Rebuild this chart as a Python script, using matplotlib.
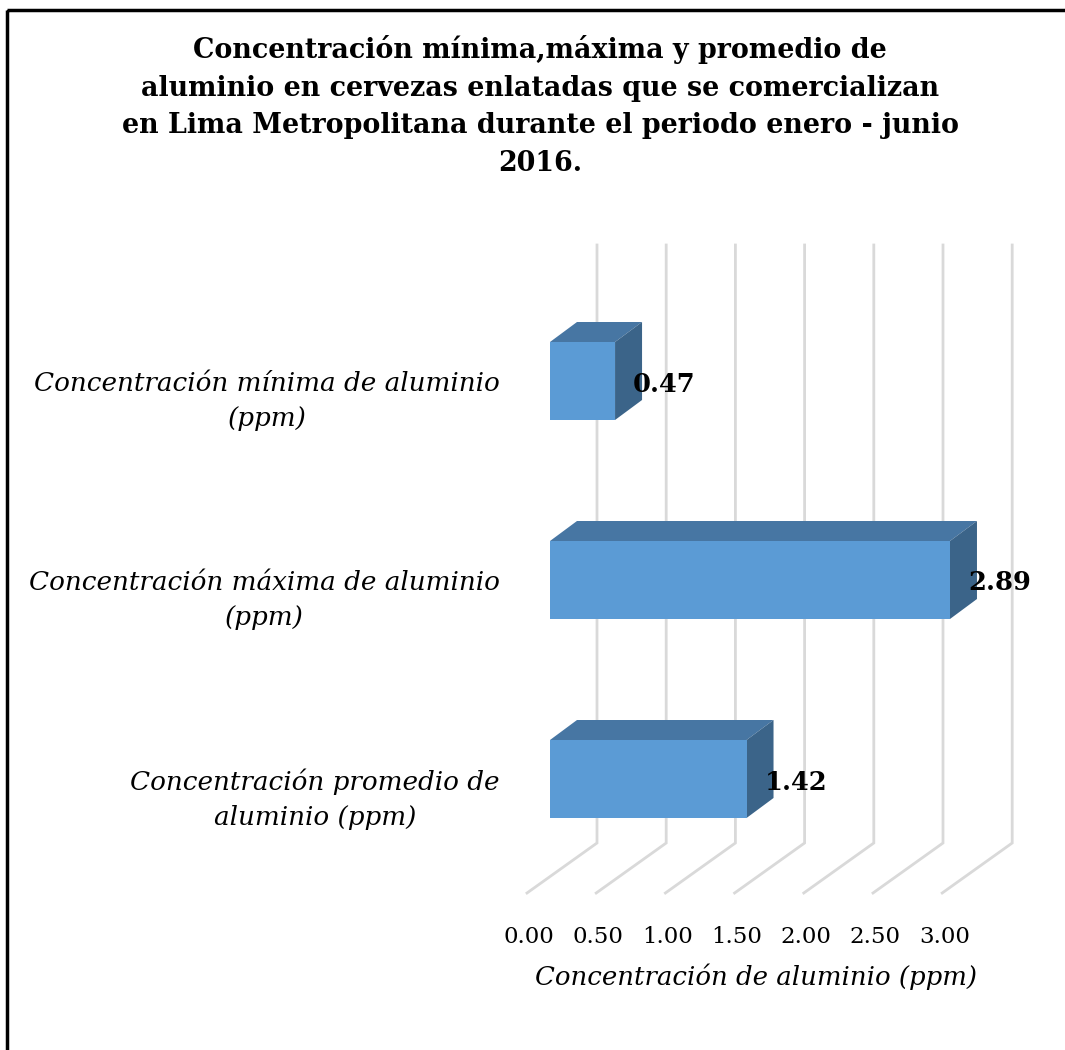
import numpy as np
import matplotlib
matplotlib.use("Agg")
import matplotlib.pyplot as plt
from matplotlib.patches import Polygon, Rectangle

# data
categorias = ["Concentración mínima de aluminio\n(ppm)",
              "Concentración máxima de aluminio\n(ppm)",
              "Concentración promedio de\naluminio (ppm)"]
valores = [0.47, 2.89, 1.42]
ticks = [0.0, 0.5, 1.0, 1.5, 2.0, 2.5, 3.0]
tick_labels = ["0.00", "0.50", "1.00", "1.50", "2.00", "2.50", "3.00"]
titulo = ("Concentración mínima,máxima y promedio de\n"
          "aluminio en cervezas enlatadas que se comercializan\n"
          "en Lima Metropolitana durante el periodo enero - junio\n"
          "2016.")
xlabel = "Concentración de aluminio (ppm)"

plt.rcParams['font.family'] = ['DejaVu Serif']

# layout (pixels)
W, H = 1065, 1050
ux = 138.4   # px per ppm
uy = 199.0   # px per category
x_org = 550  # front face of bars at 0 ppm
y_org = 381  # centre of first bar

fig = plt.figure(figsize=(W / 100, H / 100), dpi=100)
ax = fig.add_axes([0, 0, 1, 1])
ax.set_xlim(-x_org / ux, (W - x_org) / ux)
ax.set_ylim((H - y_org) / uy, -y_org / uy)
ax.axis('off')

def px(dx):
    return dx / ux

def py(dy):
    return dy / uy

# outer frame (runs off the right and bottom edges)
ax.add_patch(Rectangle((px(7 - x_org), py(10 - y_org)), px(1200), py(1200),
                       fill=False, ec='black', lw=2.5, zorder=0))

# back wall gridlines + floor diagonals
wall_dx, floor_dx = px(47), px(-23)
y_top, y_wall, y_floor = py(245 - y_org), py(843 - y_org), py(893 - y_org)
for t in ticks:
    ax.plot([t + wall_dx, t + wall_dx, t + floor_dx],
            [y_top, y_wall, y_floor], color='#d9d9d9', lw=2, zorder=1,
            solid_joinstyle='miter')

# 3d bars
hh = py(39)
ddx, ddy = px(27), py(-20)
front_c, top_c, side_c = '#5b9bd5', '#4776a3', '#3b6489'
for i, v in enumerate(valores):
    y0, y1 = i - hh, i + hh
    ax.add_patch(Polygon([(0, y0), (v, y0), (v + ddx, y0 + ddy), (ddx, y0 + ddy)],
                         closed=True, fc=top_c, ec='none', zorder=3))
    ax.add_patch(Polygon([(v, y0), (v, y1), (v + ddx, y1 + ddy), (v + ddx, y0 + ddy)],
                         closed=True, fc=side_c, ec='none', zorder=3))
    ax.add_patch(Rectangle((0, y0), v, 2 * hh, fc=front_c, ec='none', zorder=4))
    ax.text(v + px(18), i + py(3), f"{v:.2f}", ha='left', va='center',
            fontsize=18.5, fontweight='bold', zorder=5)
    ax.text(px(500 - x_org), i + py(20), categorias[i], ha='right', va='center',
            multialignment='center', fontsize=18.9, style='italic',
            linespacing=1.5)

# tick labels along the floor front edge
for t, lab in zip(ticks, tick_labels):
    ax.text(t + floor_dx + px(2), py(937 - y_org), lab, ha='center',
            va='center', fontsize=16.5)

ax.text(px(756 - x_org), py(977 - y_org), xlabel, ha='center', va='center',
        fontsize=18.7, style='italic')

ax.text(px(540 - x_org), py(106 - y_org), titulo, ha='center', va='center',
        fontsize=19.4, fontweight='bold', linespacing=1.5)

fig.savefig("out.png", dpi=100)
